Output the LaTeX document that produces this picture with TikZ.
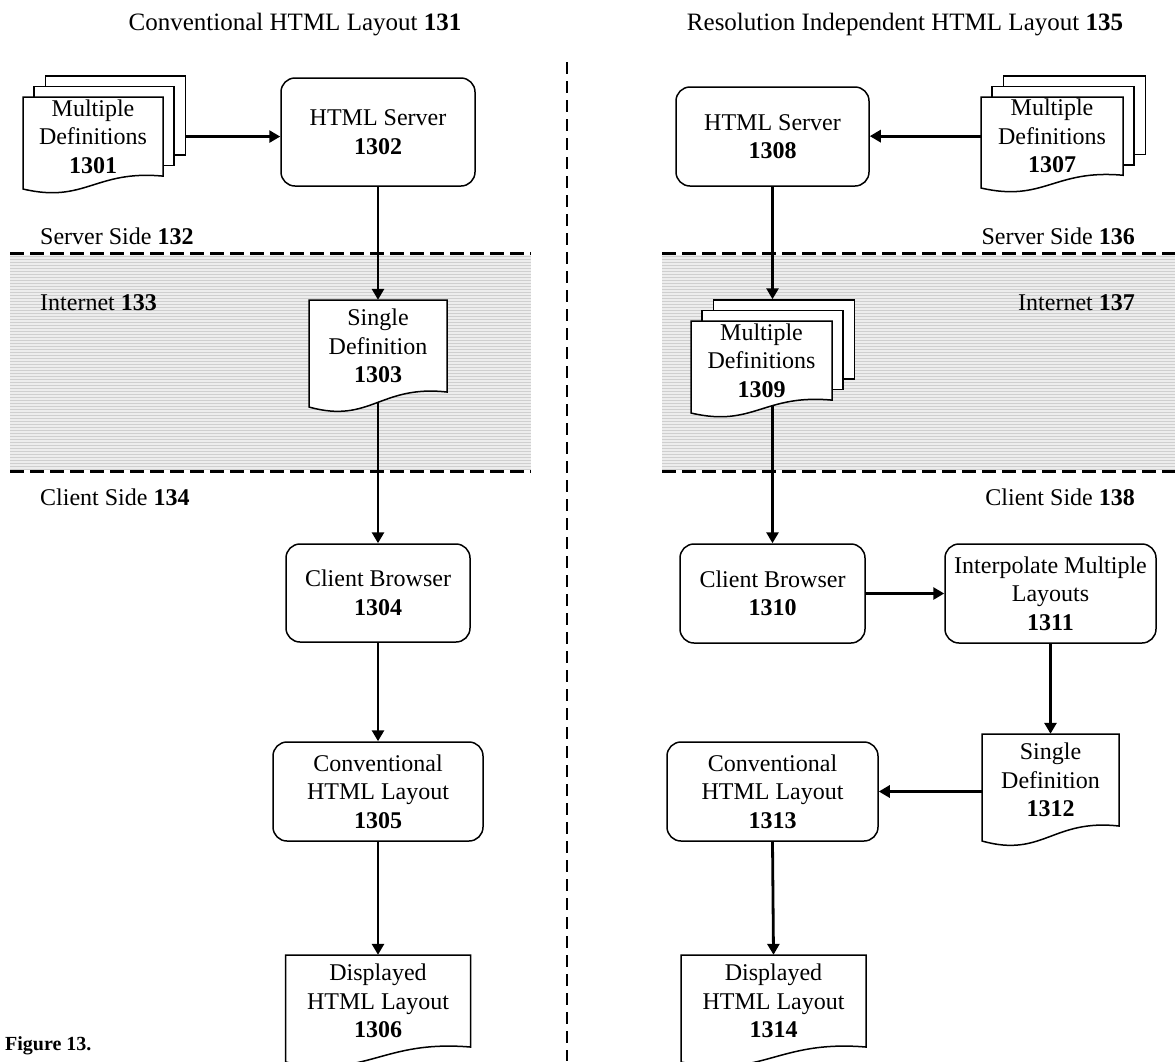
\documentclass[tikz,border=0pt]{standalone}
\usepackage{fontspec}
\setmainfont{Liberation Serif}
\usetikzlibrary{arrows.meta,calc}
\pgfdeclarelayer{band}\pgfdeclarelayer{conn}\pgfdeclarelayer{shapes}
\pgfsetlayers{band,conn,shapes,main}
\tikzset{
 box/.style={draw, line width=1.5pt, rounded corners=14pt, fill=white, align=center, inner sep=0pt},
 txt/.style={align=center, inner sep=0pt, draw=none},
 docline/.style={draw, line width=1.5pt, fill=white},
 backdoc/.style={draw, line width=1.5pt, fill=white, inner sep=0pt},
 conn/.style={line width=2.8pt, -{Triangle[length=11pt,width=12pt]}},
 hsep/.style={line width=3pt, dash pattern=on 14pt off 6pt},
 vsep/.style={line width=2.6pt, dash pattern=on 12pt off 7pt},
 lblw/.style={inner sep=0pt, anchor=base west},
 lble/.style={inner sep=0pt, anchor=base east},
 title/.style={inner sep=0pt, anchor=base, font=\fontsize{25}{30}\selectfont},
 hatchline/.style={gray!38, line width=0.7pt},
}
% document outline: cx, top, w, h
\newcommand\docoutline[4]{%
 \path[docline] ({#1-#3/2},{#2}) -- ({#1+#3/2},{#2}) -- ({#1+#3/2},{#2+0.86*#4})
  .. controls ({#1+#3/2-0.485*#3},{#2+0.79*#4}) and ({#1+#3/2-0.557*#3},{#2+1.16*#4}) .. ({#1-#3/2},{#2+#4}) -- cycle;}
% single document: name, cx, top, w, h, text
\newcommand\docnode[6]{%
 \begin{pgfonlayer}{shapes}\docoutline{#2}{#3}{#4}{#5}\end{pgfonlayer}
 \node[txt, minimum width=#4pt, minimum height={0.86*#5}] (#1) at (#2,{#3+0.43*#5}) {#6};}
% multiple documents: name, cx, top, w, h, text
\newcommand\multidocnode[6]{%
 \begin{pgfonlayer}{shapes}
  \node[backdoc, minimum width=#4pt, minimum height={0.86*#5}] (#1c) at ({#2+22.5},{#3+0.43*#5-21}) {};
  \node[backdoc, minimum width=#4pt, minimum height={0.86*#5}] (#1b) at ({#2+11},{#3+0.43*#5-10.5}) {};
  \docoutline{#2}{#3}{#4}{#5}
 \end{pgfonlayer}
 \node[txt, minimum width=#4pt, minimum height={0.86*#5}] (#1) at (#2,{#3+0.43*#5}) {#6};}

\begin{document}
\begin{tikzpicture}[x=1pt,y=-1pt, font=\fontsize{24}{28.5}\selectfont]
\useasboundingbox (0,0) rectangle (1175,1061);

% bands
\begin{pgfonlayer}{band}
 \fill[gray!14] (10,255) rectangle (531,470);
 \fill[gray!14] (662,255) rectangle (1175,470);
 \foreach \yy in {256,259,...,469} {
  \draw[hatchline] (10,\yy) -- (531,\yy);
  \draw[hatchline] (662,\yy) -- (1175,\yy);
 }
 \draw[hsep] (10,253) -- (531,253);
 \draw[hsep] (10,471) -- (531,471);
 \draw[hsep] (662,253) -- (1175,253);
 \draw[hsep] (662,471) -- (1175,471);
 \draw[vsep] (567,62) -- (567,1061);
\end{pgfonlayer}

% titles and labels
\node[title] (t131) at (295,30) {Conventional HTML Layout \textbf{131}};
\node[title] (t135) at (905,30) {Resolution Independent HTML Layout \textbf{135}};
\node[lblw] (l132) at (40,244) {Server Side \textbf{132}};
\node[lblw] (l133) at (40,310) {Internet \textbf{133}};
\node[lblw] (l134) at (40,505) {Client Side \textbf{134}};
\node[lble] (l136) at (1135,244) {Server Side \textbf{136}};
\node[lble] (l137) at (1135,310) {Internet \textbf{137}};
\node[lble] (l138) at (1135,505) {Client Side \textbf{138}};
\node[lblw, font=\fontsize{20}{24}\selectfont\bfseries] (fig) at (5,1050) {Figure 13.};

% left column
\multidocnode{n1301}{93}{97}{140}{92}{Multiple\\Definitions\\\textbf{1301}}
\node[box, minimum width=194pt, minimum height=108pt] (n1302) at (378,132) {HTML Server\\\textbf{1302}};
\docnode{n1303}{378}{300}{138}{107}{Single\\Definition\\\textbf{1303}}
\node[box, minimum width=184pt, minimum height=98pt] (n1304) at (378,593) {Client Browser\\\textbf{1304}};
\node[box, minimum width=210pt, minimum height=99pt] (n1305) at (378,791.5) {Conventional\\HTML Layout\\\textbf{1305}};
\docnode{n1306}{378}{955}{185}{107}{Displayed\\HTML Layout\\\textbf{1306}}

% right column
\multidocnode{n1307}{1052}{97}{142}{91}{Multiple\\Definitions\\\textbf{1307}}
\node[box, minimum width=193pt, minimum height=99pt] (n1308) at (772.5,136.5) {HTML Server\\\textbf{1308}};
\multidocnode{n1309}{761.5}{321}{141}{92}{Multiple\\Definitions\\\textbf{1309}}
\node[box, minimum width=185pt, minimum height=99pt] (n1310) at (772.5,593.5) {Client Browser\\\textbf{1310}};
\node[box, minimum width=211pt, minimum height=99pt] (n1311) at (1050.5,593.5) {Interpolate Multiple\\Layouts\\\textbf{1311}};
\docnode{n1312}{1050.5}{734}{137}{107}{Single\\Definition\\\textbf{1312}}
\node[box, minimum width=211pt, minimum height=99pt] (n1313) at (772.5,791.5) {Conventional\\HTML Layout\\\textbf{1313}};
\docnode{n1314}{773.5}{955}{185}{107}{Displayed\\HTML Layout\\\textbf{1314}}

% connectors
\begin{pgfonlayer}{conn}
 \draw[conn] (n1301c.east |- n1301.center) -- (n1302.west |- n1301.center);
 \draw[conn] (n1302.south) -- (n1303.north);
 \draw[conn] (n1303.center) -- (n1304.north);
 \draw[conn] (n1304.south) -- (n1305.north);
 \draw[conn] (n1305.south) -- (n1306.north);
 \draw[conn] (n1307.west) -- (n1307.west -| n1308.east);
 \draw[conn] (n1308.south) -- (n1308.south |- n1309c.north);
 \draw[conn] (n1310.north |- n1309.center) -- (n1310.north);
 \draw[conn] (n1310.east) -- (n1311.west);
 \draw[conn] (n1311.south) -- (n1312.north);
 \draw[conn] (n1313.east -| n1312.west) -- (n1313.east);
 \draw[conn] (n1313.south) -- (n1314.north);
\end{pgfonlayer}
\end{tikzpicture}
\end{document}
